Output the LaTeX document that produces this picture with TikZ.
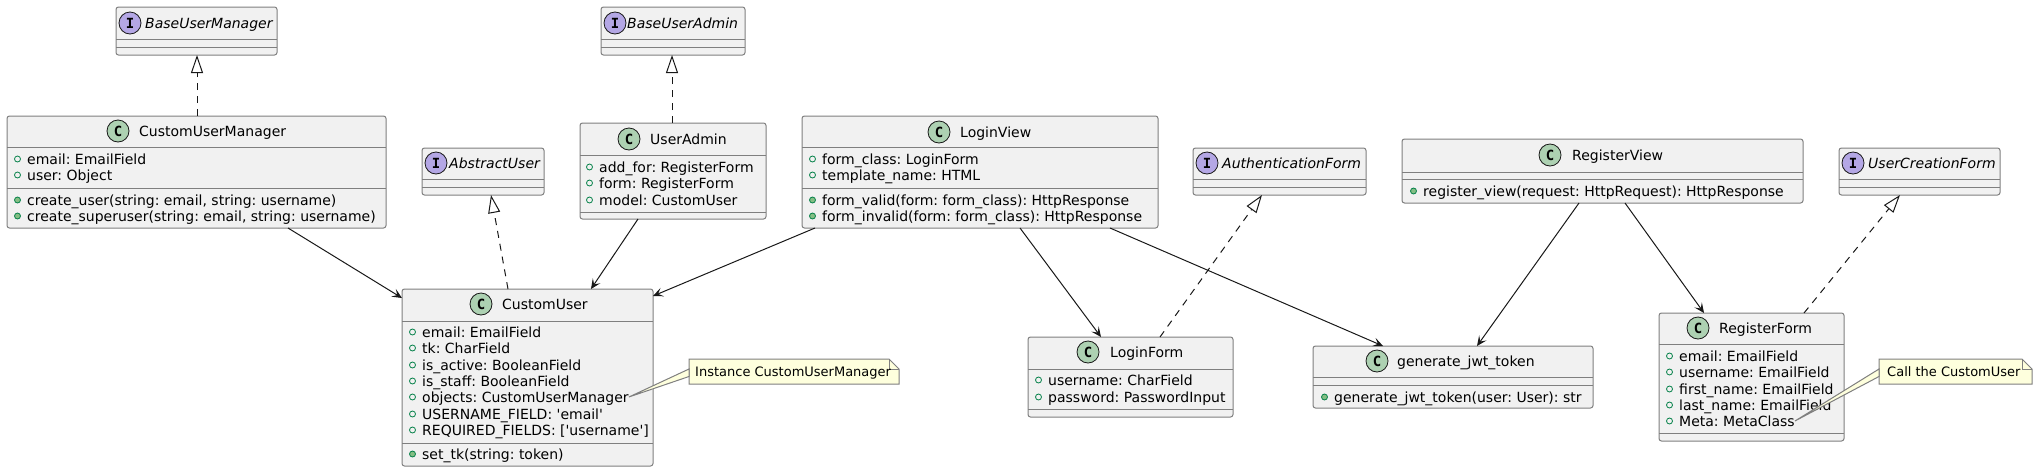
\documentclass[tikz,border=0pt]{standalone}
\usepackage{fontspec}
\setmainfont{DejaVu Sans}[Ligatures=TeXOff]
\newfontfamily\iconfont{DejaVu Sans Mono}[Ligatures=TeXOff]
\usetikzlibrary{arrows.meta}
\definecolor{boxfill}{HTML}{F1F1F1}
\definecolor{boxline}{HTML}{7F7F7F}
\definecolor{darkline}{HTML}{181818}
\definecolor{cgreen}{HTML}{ADD1B2}
\definecolor{ipurple}{HTML}{B4A7E5}
\definecolor{visgreen}{HTML}{038048}
\definecolor{methfill}{HTML}{84BE84}
\definecolor{notefill}{HTML}{FEFFDD}
\frenchspacing

\begin{document}
\begin{tikzpicture}[x=1pt, y=-1pt]
\tikzstyle{classbox} = [rectangle, rounded corners=2.5pt, draw=boxline, fill=boxfill, line width=1pt, anchor=north west, inner sep=0pt, outer sep=0pt]
\tikzstyle{divider} = [draw=boxline, line width=1pt]
\tikzstyle{cicon} = [circle, draw=darkline, fill=cgreen, line width=0.8pt, minimum size=22pt, inner sep=0pt, font=\iconfont\bfseries\fontsize{14}{14}\selectfont]
\tikzstyle{iicon} = [cicon, fill=ipurple]
\tikzstyle{member} = [anchor=west, inner sep=0pt, text height=12pt, text depth=2pt, font=\fontsize{14}{16}\selectfont]
\tikzstyle{classname} = [member]
\tikzstyle{ifacename} = [member, font=\itshape\fontsize{14}{16}\selectfont]
\tikzstyle{fieldmark} = [circle, draw=visgreen, line width=0.8pt, minimum size=6pt, inner sep=0pt, outer sep=0pt]
\tikzstyle{methodmark} = [fieldmark, fill=methfill]
\tikzstyle{attr} = [member, label={[fieldmark, xshift=-6.5pt]left:{}}]
\tikzstyle{meth} = [member, label={[methodmark, xshift=-6.5pt]left:{}}]
\tikzstyle{notebox} = [rectangle, anchor=north west, inner sep=0pt, outer sep=0pt]
\tikzstyle{noteline} = [draw=boxline, fill=notefill, line width=1pt]
\tikzstyle{notetext} = [anchor=west, inner sep=0pt, text height=11pt, text depth=2pt, font=\fontsize{13}{15}\selectfont]
\tikzstyle{arrow} = [draw=darkline, line width=1pt, -{Stealth[length=10pt, width=9pt, inset=4.5pt]}]
\tikzstyle{realize} = [draw=darkline, line width=1pt, dash pattern=on 7pt off 6pt, -{Triangle[open, length=18pt, width=12pt]}]

\useasboundingbox (0,0) rectangle (2037,472);

% interfaces on top
\node[classbox, minimum width=161pt, minimum height=48pt] (bum) at (116,7) {};
\draw[divider] ([yshift=-32pt]bum.north west) -- ([yshift=-32pt]bum.north east);
\draw[divider] ([yshift=-40pt]bum.north west) -- ([yshift=-40pt]bum.north east);
\node[iicon] (bum-i) at (130,23) {I};
\node[ifacename] (bum-t) at (145,23) {BaseUserManager};

\node[classbox, minimum width=144pt, minimum height=48pt] (bua) at (601,7) {};
\draw[divider] ([yshift=-32pt]bua.north west) -- ([yshift=-32pt]bua.north east);
\draw[divider] ([yshift=-40pt]bua.north west) -- ([yshift=-40pt]bua.north east);
\node[iicon] (bua-i) at (615,23) {I};
\node[ifacename] (bua-t) at (627,23) {BaseUserAdmin};

% CustomUserManager
\node[classbox, minimum width=379pt, minimum height=112pt] (cum) at (7,116) {};
\draw[divider] ([yshift=-31pt]cum.north west) -- ([yshift=-31pt]cum.north east);
\draw[divider] ([yshift=-72pt]cum.north west) -- ([yshift=-72pt]cum.north east);
\node[cicon] (cum-i) at (118,131) {C};
\node[classname] (cum-t) at (139,131) {CustomUserManager};
\node[attr] (cum1) at (27,159) {email: EmailField};
\node[attr] (cum2) at (27,175) {user: Object};
\node[meth] (cum3) at (27,200) {create\_user(string: email, string: username)};
\node[meth] (cum4) at (27,216) {create\_superuser(string: email, string: username)};

% UserAdmin
\node[classbox, minimum width=186pt, minimum height=96pt] (ua) at (580,123) {};
\draw[divider] ([yshift=-32pt]ua.north west) -- ([yshift=-32pt]ua.north east);
\draw[divider] ([yshift=-89pt]ua.north west) -- ([yshift=-89pt]ua.north east);
\node[cicon] (ua-i) at (629,139) {C};
\node[classname] (ua-t) at (650,139) {UserAdmin};
\node[attr] (ua1) at (599,167) {add\_for: RegisterForm};
\node[attr] (ua2) at (599,183) {form: RegisterForm};
\node[attr] (ua3) at (599,200) {model: CustomUser};

% AbstractUser
\node[classbox, minimum width=122pt, minimum height=47pt] (au) at (422,148) {};
\draw[divider] ([yshift=-31pt]au.north west) -- ([yshift=-31pt]au.north east);
\draw[divider] ([yshift=-39pt]au.north west) -- ([yshift=-39pt]au.north east);
\node[iicon] (au-i) at (436,163) {I};
\node[ifacename] (au-t) at (449,163) {AbstractUser};

% LoginView
\node[classbox, minimum width=356pt, minimum height=112pt] (lv) at (802,116) {};
\draw[divider] ([yshift=-31pt]lv.north west) -- ([yshift=-31pt]lv.north east);
\draw[divider] ([yshift=-72pt]lv.north west) -- ([yshift=-72pt]lv.north east);
\node[cicon] (lv-i) at (939,132) {C};
\node[classname] (lv-t) at (960,132) {LoginView};
\node[attr] (lv1) at (822,159) {form\_class: LoginForm};
\node[attr] (lv2) at (822,175) {template\_name: HTML};
\node[meth] (lv3) at (822,200) {form\_valid(form: form\_class): HttpResponse};
\node[meth] (lv4) at (822,216) {form\_invalid(form: form\_class): HttpResponse};

% AuthenticationForm
\node[classbox, minimum width=173pt, minimum height=47pt] (af) at (1193,148) {};
\draw[divider] ([yshift=-31pt]af.north west) -- ([yshift=-31pt]af.north east);
\draw[divider] ([yshift=-39pt]af.north west) -- ([yshift=-39pt]af.north east);
\node[iicon] (af-i) at (1207,163) {I};
\node[ifacename] (af-t) at (1222,163) {AuthenticationForm};

% RegisterView
\node[classbox, minimum width=401pt, minimum height=64pt] (rv) at (1402,139) {};
\draw[divider] ([yshift=-33pt]rv.north west) -- ([yshift=-33pt]rv.north east);
\draw[divider] ([yshift=-40pt]rv.north west) -- ([yshift=-40pt]rv.north east);
\node[cicon] (rv-i) at (1550,155) {C};
\node[classname] (rv-t) at (1572,155) {RegisterView};
\node[meth] (rv1) at (1423,191) {register\_view(request: HttpRequest): HttpResponse};

% UserCreationForm
\node[classbox, minimum width=161pt, minimum height=47pt] (ucf) at (1839,148) {};
\draw[divider] ([yshift=-31pt]ucf.north west) -- ([yshift=-31pt]ucf.north east);
\draw[divider] ([yshift=-39pt]ucf.north west) -- ([yshift=-39pt]ucf.north east);
\node[iicon] (ucf-i) at (1853,163) {I};
\node[ifacename] (ucf-t) at (1868,163) {UserCreationForm};

% CustomUser
\node[classbox, minimum width=251pt, minimum height=177pt] (cu) at (402,289) {};
\draw[divider] ([yshift=-32pt]cu.north west) -- ([yshift=-32pt]cu.north east);
\draw[divider] ([yshift=-154pt]cu.north west) -- ([yshift=-154pt]cu.north east);
\node[cicon] (cu-i) at (481,304) {C};
\node[classname] (cu-t) at (502,304) {CustomUser};
\node[attr] (cu1) at (422,332) {email: EmailField};
\node[attr] (cu2) at (422,348) {tk: CharField};
\node[attr] (cu3) at (422,365) {is\_active: BooleanField};
\node[attr] (cu4) at (422,381) {is\_staff: BooleanField};
\node[attr] (cu5) at (422,397) {objects: CustomUserManager};
\node[attr] (cu6) at (422,414) {USERNAME\_FIELD: 'email'};
\node[attr] (cu7) at (422,430) {REQUIRED\_FIELDS: ['username']};
\node[meth] (cu8) at (422,454) {set\_tk(string: token)};

% LoginForm
\node[classbox, minimum width=205pt, minimum height=80pt] (lf) at (1028,337) {};
\draw[divider] ([yshift=-32pt]lf.north west) -- ([yshift=-32pt]lf.north east);
\draw[divider] ([yshift=-72pt]lf.north west) -- ([yshift=-72pt]lf.north east);
\node[cicon] (lf-i) at (1088,352) {C};
\node[classname] (lf-t) at (1110,352) {LoginForm};
\node[attr] (lf1) at (1048,380) {username: CharField};
\node[attr] (lf2) at (1048,397) {password: PasswordInput};

% generate_jwt_token
\node[classbox, minimum width=280pt, minimum height=62pt] (gjt) at (1313,346) {};
\draw[divider] ([yshift=-31pt]gjt.north west) -- ([yshift=-31pt]gjt.north east);
\draw[divider] ([yshift=-39pt]gjt.north west) -- ([yshift=-39pt]gjt.north east);
\node[cicon] (gjt-i) at (1377,361) {C};
\node[classname] (gjt-t) at (1397,361) {generate\_jwt\_token};
\node[meth] (gjt1) at (1334,397) {generate\_jwt\_token(user: User): str};

% RegisterForm
\node[classbox, minimum width=185pt, minimum height=128pt] (rf) at (1659,313) {};
\draw[divider] ([yshift=-31pt]rf.north west) -- ([yshift=-31pt]rf.north east);
\draw[divider] ([yshift=-120pt]rf.north west) -- ([yshift=-120pt]rf.north east);
\node[cicon] (rf-i) at (1698,328) {C};
\node[classname] (rf-t) at (1719,328) {RegisterForm};
\node[attr] (rf1) at (1679,356) {email: EmailField};
\node[attr] (rf2) at (1679,372) {username: EmailField};
\node[attr] (rf3) at (1679,389) {first\_name: EmailField};
\node[attr] (rf4) at (1679,405) {last\_name: EmailField};
\node[attr] (rf5) at (1679,421) {Meta: MetaClass};

% realizations
\draw[realize] ([xshift=190pt]cum.north west) -- ([xshift=81pt]bum.south west);
\draw[realize] ([xshift=92pt]ua.north west) -- ([xshift=71pt]bua.south west);
\draw[realize] ([xshift=106pt]cu.north west) -- ([xshift=69pt]au.south west);
\draw[realize] ([xshift=132pt]lf.north west) -- ([xshift=69pt]af.south west);
\draw[realize] ([xshift=145pt]rf.north west) -- ([xshift=61pt]ucf.south west);

% associations
\draw[arrow] ([xshift=281pt]cum.south west) -- ([yshift=-9pt]cu.north west);
\draw[arrow] ([xshift=58pt]ua.south west) -- ([xshift=189pt]cu.north west);
\draw[arrow] ([xshift=13pt]lv.south west) -- ([yshift=-7pt]cu.north east);
\draw[arrow] ([xshift=218pt]lv.south west) -- ([xshift=73pt]lf.north west);
\draw[arrow] ([xshift=308pt]lv.south west) -- ([xshift=70pt]gjt.north west);
\draw[arrow] ([xshift=177pt]rv.south west) -- ([xshift=164pt]gjt.north west);
\draw[arrow] ([xshift=223pt]rv.south west) -- ([xshift=45pt]rf.north west);

% notes
\node[notebox, minimum width=210pt, minimum height=25pt] (n1) at (689,359) {};
\draw[noteline] (n1.north west) -- ([xshift=-10pt]n1.north east) -- ([yshift=-10pt]n1.north east) -- (n1.south east) -- (n1.south west) -- cycle;
\draw[divider] ([xshift=-10pt]n1.north east) -- ([xshift=-10pt,yshift=-10pt]n1.north east) -- ([yshift=-10pt]n1.north east);
\node[notetext] (n1-t) at (695,371.5) {Instance CustomUserManager};
\filldraw[noteline] (cu5.east) -- ([yshift=2.5pt]n1.west) -- ([yshift=-5pt]n1.west) -- cycle;

\node[notebox, minimum width=153pt, minimum height=25pt] (n2) at (1879,359) {};
\draw[noteline] (n2.north west) -- ([xshift=-10pt]n2.north east) -- ([yshift=-10pt]n2.north east) -- (n2.south east) -- (n2.south west) -- cycle;
\draw[divider] ([xshift=-10pt]n2.north east) -- ([xshift=-10pt,yshift=-10pt]n2.north east) -- ([yshift=-10pt]n2.north east);
\node[notetext] (n2-t) at (1887,371.5) {Call the CustomUser};
\filldraw[noteline] (rf5.east) -- ([yshift=2.5pt]n2.west) -- ([yshift=-5pt]n2.west) -- cycle;
\end{tikzpicture}
\end{document}
